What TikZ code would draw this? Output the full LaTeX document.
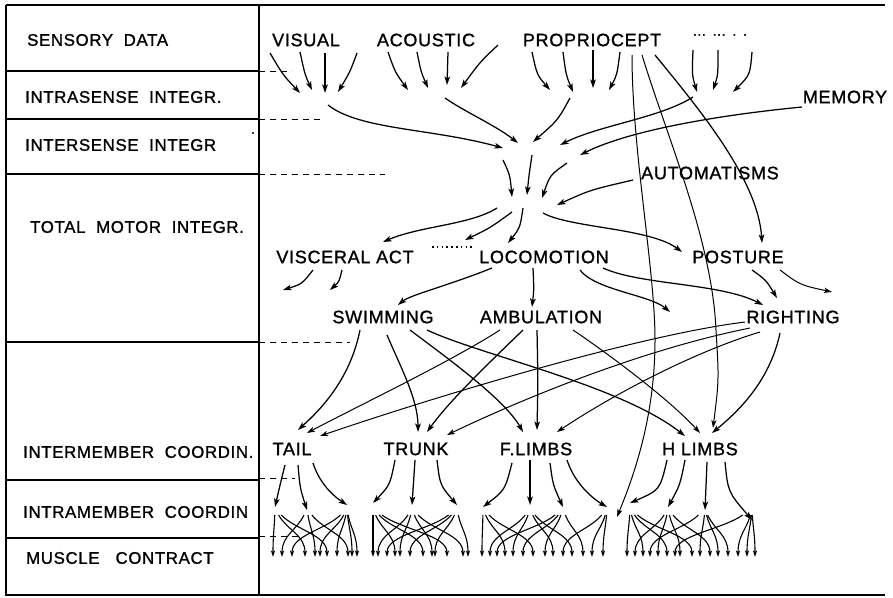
\documentclass[tikz,border=0pt]{standalone}
\usepackage{fontspec}
\setmainfont{Liberation Sans}[LetterSpace=4,FakeBold=1.2]
\usetikzlibrary{arrows.meta}
\begin{document}
\begin{tikzpicture}[x=1pt,y=-1pt,
  lab/.style={inner sep=0pt, font=\fontsize{18}{20}\selectfont},
  side/.style={inner sep=0pt, anchor=west, font=\fontsize{16.8}{19}\selectfont},
  arr/.style={-{Stealth[length=8.5pt,width=5.6pt,inset=2pt]}, line width=1.25pt},
  tarr/.style={-{Stealth[length=8pt,width=5.2pt,inset=2pt]}, line width=1pt},
  sm/.style={-{Stealth[length=6.5pt,width=4.2pt,inset=1.5pt]}, line width=1.1pt},
  dashln/.style={dash pattern=on 6pt off 5pt, line width=0.8pt},
  frame/.style={line width=1.5pt}]
\useasboundingbox (0,0) rectangle (893,597);

% frame and table
\draw[frame] (6,5) -- (885,5);
\draw[frame] (6,5) -- (6,595) -- (885,595);
\draw[line width=1.1pt] (259,5) -- (259,595);
\foreach \yy in {71,119,174,342,480,538} \draw[line width=1.1pt] (6,\yy) -- (259,\yy);
\draw[dashln] (259,71) -- (292,71);
\draw[dashln] (259,119) -- (320,119);
\draw[dashln] (259,174) -- (385,174);
\draw[dashln] (259,342) -- (350,342);
\draw[dashln] (259,478) -- (295,478);
\draw[dashln] (259,536) -- (298,536);
\fill (253,133) circle (1.2pt);

% left column labels
\node[side] (l1) at (27,40) {SENSORY\ \ DATA};
\node[side] (l2) at (25,97) {INTRASENSE\ \ INTEGR.};
\node[side] (l3) at (25,145) {INTERSENSE\ \ INTEGR};
\node[side] (l4) at (30,227) {TOTAL\ \ MOTOR\ \ INTEGR.};
\node[side] (l5) at (23,452) {INTERMEMBER\ \ COORDIN.};
\node[side] (l6) at (23,512) {INTRAMEMBER\ \ COORDIN};
\node[side] (l7) at (26,558) {MUSCLE\ \ \ CONTRACT};

% right panel labels
\node[lab] (VIS) at (306,40) {VISUAL};
\node[lab] (ACO) at (426,40) {ACOUSTIC};
\node[lab] (PRO) at (592,40) {PROPRIOCEPT};
\node[inner sep=0pt, font=\fontsize{14}{14}\selectfont] (DOTS) at (720,35) {...\hspace{7pt}...\hspace{7pt}.\ \,.};
\node[lab] (MEM) at (845,97) {MEMORY};
\node[lab] (AUT) at (710,173) {AUTOMATISMS};
\node[lab] (VISC) at (345,257) {VISCERAL ACT};
\node[lab] (LOC) at (544,257) {LOCOMOTION};
\node[lab] (POS) at (738,257) {POSTURE};
\node[lab] (SWI) at (383,317) {SWIMMING};
\node[lab] (AMB) at (541,317) {AMBULATION};
\node[lab] (RIG) at (793,317) {RIGHTING};
\node[lab] (TAIL) at (292,449) {TAIL};
\node[lab] (TRU) at (416,449) {TRUNK};
\node[lab] (FLI) at (536,449) {F.LIMBS};
\node[lab] (HLI) at (700,449) {H LIMBS};
\draw[dash pattern=on 1.6pt off 3.2pt, line width=1.6pt] (432,247) -- (472,247);

% sensory -> intrasense
\draw[arr] (270,53) .. controls (283,75) .. (300,93);
\draw[arr] (300,52) .. controls (305,75) .. (312,90);
\draw[arr] (325,53) -- (325,93);
\draw[arr] (357,53) .. controls (350,72) .. (338,92);
\draw[arr] (388,52) .. controls (395,72) .. (408,90);
\draw[arr] (417,52) .. controls (421,72) .. (428,88);
\draw[arr] (448,52) -- (447,85);
\draw[arr] (498,45) .. controls (480,62) .. (461,88);
\draw[arr] (532,52) .. controls (537,75) .. (550,90);
\draw[arr] (563,52) .. controls (566,75) .. (573,92);
\draw[arr] (593,50) -- (593,88);
\draw[arr] (620,52) .. controls (617,75) .. (609,90);
\draw[arr] (693,50) .. controls (692,75) .. (697,92);
\draw[arr] (718,50) .. controls (718,75) .. (713,90);
\draw[arr] (752,52) .. controls (750,75) .. (733,92);

% intrasense -> intersense
\draw[arr] (328,105) .. controls (360,130) and (430,128) .. (503,148);
\draw[arr] (445,98) .. controls (465,112) and (495,125) .. (518,143);
\draw[arr] (570,98) .. controls (558,120) .. (533,142);
\draw[arr] (693,97) .. controls (660,118) and (600,125) .. (560,145);
\draw[arr] (802,107) .. controls (720,115) and (630,130) .. (580,155);

% intersense -> total motor
\draw[arr] (503,160) .. controls (510,175) .. (512,197);
\draw[arr] (532,155) .. controls (529,175) .. (527,195);
\draw[arr] (567,163) .. controls (550,175) .. (542,198);
\draw[arr] (633,180) .. controls (590,190) .. (557,205);

% total motor -> level 3
\draw[arr] (497,208) .. controls (470,225) and (420,226) .. (383,242);
\draw[arr] (512,212) .. controls (490,228) .. (465,240);
\draw[arr] (523,208) .. controls (520,228) .. (508,243);
\draw[arr] (543,213) .. controls (570,228) and (650,228) .. (682,252);

% proprioceptive long lines
\draw[arr] (655,55) .. controls (700,110) and (758,180) .. (762,243);
\draw[tarr] (642,55) .. controls (668,140) and (712,240) .. (716,330) .. controls (719,380) .. (713,428);
\draw[tarr] (632,55) .. controls (632,150) and (655,270) .. (655,340) .. controls (655,420) and (632,480) .. (617,517);

% level 3 outputs
\draw[arr] (313,270) .. controls (302,284) .. (283,290);
\draw[arr] (342,270) .. controls (339,282) .. (330,290);
\draw[arr] (492,268) .. controls (450,285) and (410,295) .. (398,305);
\draw[arr] (533,268) .. controls (534,290) .. (532,307);
\draw[arr] (580,270) .. controls (595,290) and (650,295) .. (670,312);
\draw[arr] (603,268) .. controls (640,285) and (720,283) .. (763,305);
\draw[arr] (752,270) .. controls (766,280) .. (777,298);
\draw[tarr] (780,270) .. controls (800,285) .. (832,292);

% level 4 -> limbs
\draw[arr] (360,330) .. controls (350,380) and (320,410) .. (298,430);
\draw[arr] (387,335) .. controls (402,370) and (418,400) .. (418,432);
\draw[arr] (410,330) .. controls (450,360) and (505,400) .. (523,432);
\draw[arr] (427,330) .. controls (480,355) and (620,385) .. (685,436);
\draw[tarr] (500,330) .. controls (450,362) and (360,405) .. (307,433);
\draw[arr] (523,330) .. controls (490,362) and (450,400) .. (427,432);
\draw[arr] (537,330) .. controls (538,380) .. (537,430);
\draw[tarr] (573,330) .. controls (610,355) and (670,400) .. (700,433);
\draw[tarr] (745,322) .. controls (640,335) and (440,395) .. (320,436);
\draw[tarr] (750,328) .. controls (640,350) and (520,400) .. (447,435);
\draw[tarr] (760,332) .. controls (700,350) and (620,390) .. (557,432);
\draw[arr] (780,333) .. controls (770,380) and (740,410) .. (712,433);

% limbs -> intramember
\draw[arr] (285,465) .. controls (280,485) .. (275,507);
\draw[arr] (298,465) .. controls (300,488) .. (307,510);
\draw[arr] (313,463) .. controls (320,485) and (335,497) .. (347,505);
\draw[arr] (395,460) .. controls (390,485) .. (373,503);
\draw[arr] (415,460) -- (412,505);
\draw[arr] (437,460) .. controls (440,485) .. (457,505);
\draw[arr] (512,463) .. controls (505,490) .. (483,507);
\draw[arr] (530,460) -- (530,505);
\draw[arr] (550,463) .. controls (553,485) .. (563,507);
\draw[arr] (567,460) .. controls (575,485) and (595,500) .. (607,507);
\draw[arr] (667,460) .. controls (660,490) .. (630,503);
\draw[arr] (685,460) .. controls (680,485) .. (668,507);
\draw[arr] (707,462) -- (705,510);
\draw[arr] (725,462) .. controls (728,492) .. (752,520);

% intramember -> muscle contraction
\foreach \h/\e in {275/273, 275/305, 275/327,
                   307/282, 307/315, 307/348,
                   347/292, 347/320, 347/337, 347/352, 347/357,
                   373/373, 373/395, 373/423, 373/447,
                   412/378, 412/400, 412/432, 412/463,
                   457/387, 457/410, 457/435, 457/468,
                   483/482, 483/505, 483/533,
                   530/490, 530/513, 530/553, 530/572,
                   563/497, 563/523, 563/545, 563/583,
                   607/563, 607/592, 607/603,
                   630/627, 630/643, 630/667, 630/692,
                   668/635, 668/658, 668/680, 668/710,
                   705/650, 705/700, 705/718, 705/728,
                   752/675, 752/738, 752/747, 752/755}
  \draw[sm] ({\h+0.12*(\e-\h)},515) .. controls ({\h+0.4*(\e-\h)},530) and (\e,535) .. (\e,557);
\end{tikzpicture}
\end{document}
